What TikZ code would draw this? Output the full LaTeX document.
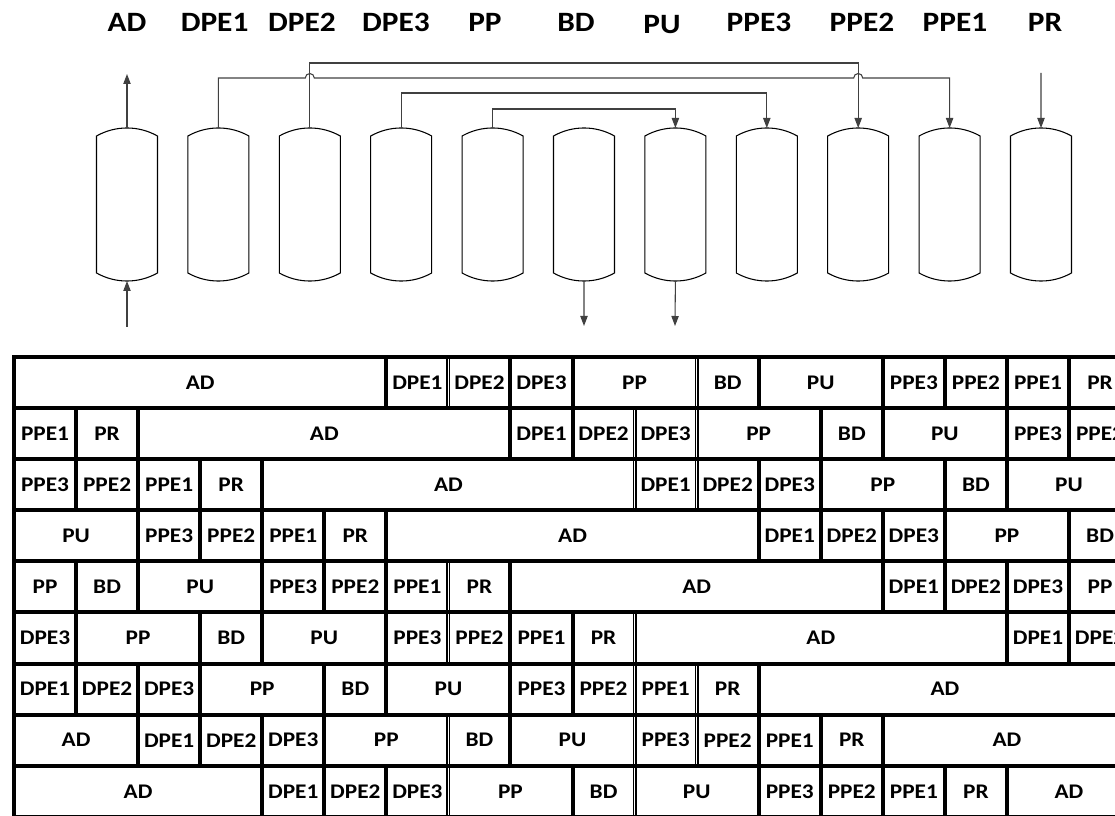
\documentclass[tikz,border=0pt]{standalone}
\usepackage{fontspec}
\setmainfont{Carlito}[FakeStretch=1.12]
\usetikzlibrary{arrows.meta,calc}
% one cell of the cycle table: row, first unit, last unit, text
\newcommand{\cellbox}[4]{%
  \draw[cell] ({14+62.06*(#2)},{357+51.1*(#1)}) rectangle ({14+62.06*(#3)},{357+51.1*(#1+1)});
  \node[celltext] (c-#1-#2) at ({14+62.06*((#2)+(#3))/2},{357+51.1*(#1+0.5)}) {#4};}

\begin{document}
\begin{tikzpicture}[
  x=0.75pt,
  y=-0.75pt,
  toplabel/.style={font=\fontsize{21}{25}\selectfont\bfseries, inner sep=0pt, anchor=base},
  celltext/.style={font=\fontsize{15.6}{18}\selectfont\bfseries, inner sep=0pt},
  vessel/.style={black, line width=0.8pt},
  pipe/.style={black!75, line width=0.8pt},
  flow/.style={pipe, -{Triangle[length=7.5pt, width=5.5pt]}},
  cell/.style={black, line width=3pt},
  gap/.style={white, line width=0.8pt}
]
  \useasboundingbox (0,0) rectangle (1115,816);
  \clip (0,0) rectangle (1115,816);

  % ---- step names above the columns ----
  \foreach \name/\lx/\ly in {AD/127/32,DPE1/214.6/32,DPE2/302/32,DPE3/396/32,PP/485/32,BD/576/32,
                             PU/662/34,PPE3/759/32,PPE2/862/32,PPE1/955/32,PR/1045/32}
    \node[toplabel] (\name-lab) at (\lx,\ly) {\name};

  % ---- the eleven columns ----
  \foreach \name [count=\i from 0] in {AD,DPE1,DPE2,DPE3,PP,BD,PU,PPE3,PPE2,PPE1,PR} {
    \pgfmathsetmacro\cx{127+91.4*\i}
    \draw[vessel] (\cx-30.5,136) .. controls (\cx-11.5,125.3) and (\cx+11.5,125.3) .. (\cx+30.5,136)
      -- (\cx+30.5,273) .. controls (\cx+11.5,283.7) and (\cx-11.5,283.7) .. (\cx-30.5,273) -- cycle;
    \coordinate (\name-t) at (\cx,128);
    \coordinate (\name-b) at (\cx,281);
  }

  % ---- free ends of feed and product lines ----
  \coordinate (ad-out) at (127,74);
  \coordinate (ad-in) at (127,327);
  \coordinate (pr-in) at (1041,73);
  \coordinate (bd-out) at (584,326);
  \coordinate (pu-out) at (675,326);

  \draw[flow] (AD-t) -- (ad-out);
  \draw[flow] (ad-in) -- (AD-b);
  \draw[flow] (pr-in) -- (PR-t);
  \draw[flow] (BD-b) -- (bd-out);
  \draw[flow] (PU-b) -- (pu-out);

  % ---- pressure equalisation and purge links ----
  \draw[flow] (DPE2-t) -- ++(0,-65) -| (PPE2-t);
  \draw[flow] (DPE3-t) -- ++(0,-35) -| (PPE3-t);
  \draw[flow] (PP-t) -- ++(0,-19) -| (PU-t);
  % hops over the DPE2 -> PPE2 line
  \draw[flow] (DPE1-t) -- ++(0,-50)
    -- ($(DPE2-t)+(-4.5,-50)$) arc[start angle=180, end angle=360, radius=4.5]
    -- ($(PPE2-t)+(-4.5,-50)$) arc[start angle=180, end angle=360, radius=4.5]
    -| (PPE1-t);

  % ---- cycle table: each row is the sequence shifted by two units ----
  \foreach \r in {0,...,8} {
    \foreach \lab/\off/\w in {AD/0/6,DPE1/6/1,DPE2/7/1,DPE3/8/1,PP/9/2,BD/11/1,
                              PU/12/2,PPE3/14/1,PPE2/15/1,PPE1/16/1,PR/17/1} {
      \pgfmathtruncatemacro\st{mod(2*\r+\off,18)}
      \pgfmathtruncatemacro\en{\st+\w}
      \ifnum\en>18
        \cellbox{\r}{\st}{18}{\lab}
        \cellbox{\r}{0}{\en-18}{\lab}
      \else
        \cellbox{\r}{\st}{\en}{\lab}
      \fi
    }
  }

  % ---- doubled borders ----
  \foreach \u/\rows in {7/{0,4,5,7,8},10/{1,2,5,6,7,8},11/{0,1,2,6,7}}
    \foreach \r in \rows
      \draw[gap] ({14+62.06*\u},{357+51.1*\r+2}) -- ({14+62.06*\u},{357+51.1*(\r+1)-2});
\end{tikzpicture}
\end{document}
